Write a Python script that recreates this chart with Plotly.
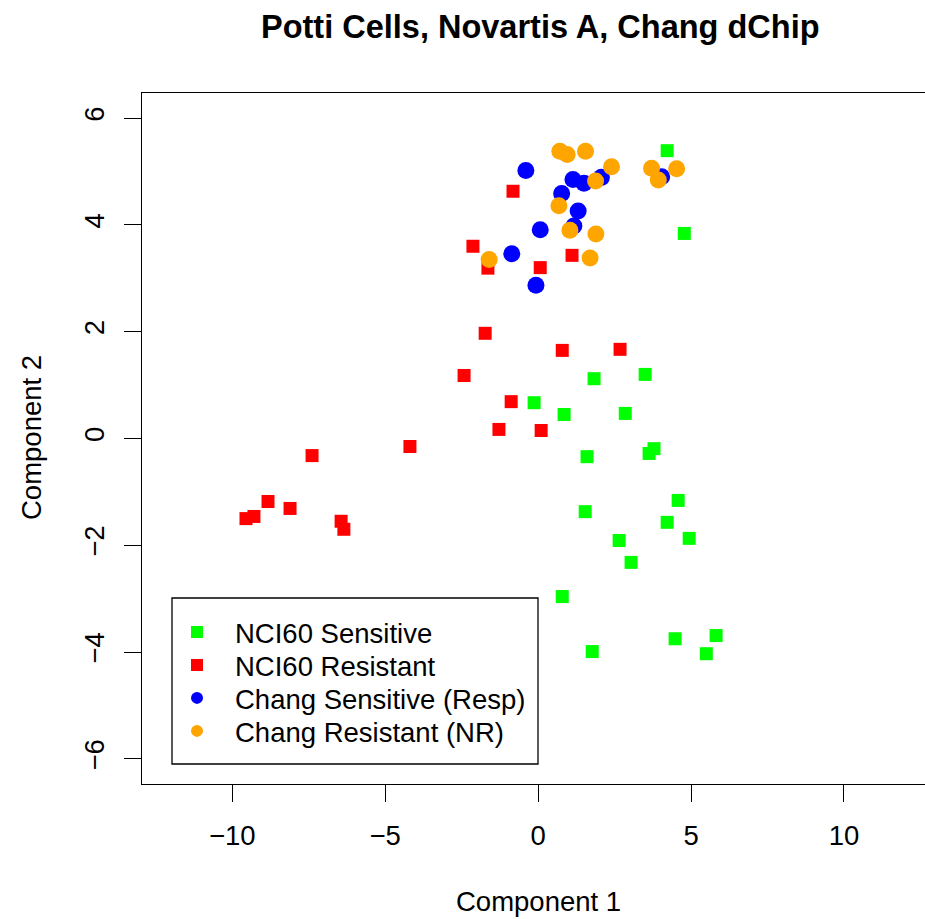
import plotly.graph_objects as go

# ---- data ----
sens_x = [4.22, 4.78, 3.50, 1.83, -0.13, 0.85, 2.85, 1.60, 3.79, 3.63, 4.58,
          1.54, 4.22, 4.94, 2.65, 3.04, 0.79, 5.82, 4.48, 1.77, 5.50]
sens_y = [5.39, 3.84, 1.20, 1.12, 0.67, 0.45, 0.47, -0.34, -0.19, -0.28, -1.16,
          -1.37, -1.57, -1.87, -1.91, -2.32, -2.96, -3.69, -3.75, -3.99, -4.03]

res_x = [-0.82, -2.13, -1.64, 1.11, 0.07, -1.73, 0.79, 2.68, -2.42, -0.88,
         -1.28, 0.10, -4.19, -7.39, -8.83, -8.11, -9.55, -9.29, -6.44, -6.35]
res_y = [4.63, 3.60, 3.19, 3.43, 3.20, 1.97, 1.65, 1.67, 1.18, 0.69,
         0.17, 0.15, -0.15, -0.32, -1.18, -1.31, -1.50, -1.46, -1.55, -1.70]

chang_s_x = [-0.40, 1.14, 1.50, 2.07, 4.04, 0.77, 1.31, 1.17, 0.07, -0.86, -0.07]
chang_s_y = [5.02, 4.85, 4.78, 4.89, 4.90, 4.59, 4.26, 3.98, 3.91, 3.46, 2.87]

chang_r_x = [0.71, 0.95, 1.55, 2.40, 1.88, 3.71, 4.53, 3.93, 0.68, 1.04, 1.89, -1.60, 1.70]
chang_r_y = [5.38, 5.32, 5.38, 5.09, 4.82, 5.06, 5.05, 4.84, 4.36, 3.90, 3.83, 3.35, 3.38]

series_names = ["NCI60 Sensitive", "NCI60 Resistant",
                "Chang Sensitive (Resp)", "Chang Resistant (NR)"]
x_ticks = [-10, -5, 0, 5, 10]
y_ticks = [-6, -4, -2, 0, 2, 4, 6]

FONT = "Liberation Sans, Arial, sans-serif"
FS = 27.5

W, H = 925, 919
L, R, T, B = 142, 0, 93, 135
pw, ph = W - L - R, H - T - B


def px(xp):
    return (xp - L) / pw


def py(yp):
    return (H - B - yp) / ph


fig = go.Figure()
fig.add_trace(go.Scatter(x=sens_x, y=sens_y, mode="markers", name=series_names[0], legend="legend",
                         marker=dict(symbol="square", size=13, color="#00FF00", line=dict(width=0))))
fig.add_trace(go.Scatter(x=res_x, y=res_y, mode="markers", name=series_names[1], legend="legend2",
                         marker=dict(symbol="square", size=13, color="#FF0000", line=dict(width=0))))
fig.add_trace(go.Scatter(x=chang_s_x, y=chang_s_y, mode="markers", name=series_names[2], legend="legend3",
                         marker=dict(symbol="circle", size=17, color="#0000FF", line=dict(width=0))))
fig.add_trace(go.Scatter(x=chang_r_x, y=chang_r_y, mode="markers", name=series_names[3], legend="legend4",
                         marker=dict(symbol="circle", size=17, color="#FFA500", line=dict(width=0))))


def leg(ycenter):
    return dict(x=px(159), y=py(ycenter), xanchor="left", yanchor="middle",
                bgcolor="rgba(0,0,0,0)", borderwidth=0,
                itemwidth=66, itemsizing="constant",
                font=dict(family=FONT, size=FS, color="black"))


fig.update_layout(
    width=W, height=H,
    margin=dict(l=L, r=R, t=T, b=B, pad=0),
    paper_bgcolor="white", plot_bgcolor="white",
    font=dict(family=FONT, size=FS, color="black"),
    showlegend=True,
    legend=leg(632), legend2=leg(665), legend3=leg(698), legend4=leg(731),
    shapes=[dict(type="rect", xref="paper", yref="paper",
                 x0=px(172), x1=px(538), y0=py(764), y1=py(598),
                 line=dict(color="black", width=1.3), fillcolor="rgba(0,0,0,0)")],
    annotations=[
        dict(text="<b>Potti Cells, Novartis A, Chang dChip</b>", xref="paper", yref="paper",
             x=px(540), y=py(27), xanchor="center", yanchor="middle", showarrow=False,
             font=dict(family=FONT, size=32.5, color="black")),
        dict(text="Component 1", xref="paper", yref="paper",
             x=px(538), y=py(901), xanchor="center", yanchor="middle", showarrow=False,
             font=dict(family=FONT, size=FS, color="black")),
        dict(text="Component 2", xref="paper", yref="paper", textangle=-90,
             x=px(31), y=py(438), xanchor="center", yanchor="middle", showarrow=False,
             font=dict(family=FONT, size=FS, color="black")),
    ],
)

fig.update_xaxes(range=[-12.95, 12.65], tickmode="array", tickvals=x_ticks,
                 ticks="outside", ticklen=17, tickwidth=1.3, tickcolor="black",
                 showline=True, linecolor="black", linewidth=1.3, mirror=True,
                 showgrid=False, zeroline=False, ticklabelstandoff=10,
                 tickfont=dict(family=FONT, size=FS, color="black"))
fig.update_yaxes(range=[-6.47, 6.47], tickmode="array", tickvals=y_ticks,
                 ticks="outside", ticklen=17, tickwidth=1.3, tickcolor="black",
                 showline=True, linecolor="black", linewidth=1.3, mirror=False,
                 showgrid=False, zeroline=False, tickangle=-90, ticklabelstandoff=9,
                 tickfont=dict(family=FONT, size=FS, color="black"))

fig.write_html("out.html")
